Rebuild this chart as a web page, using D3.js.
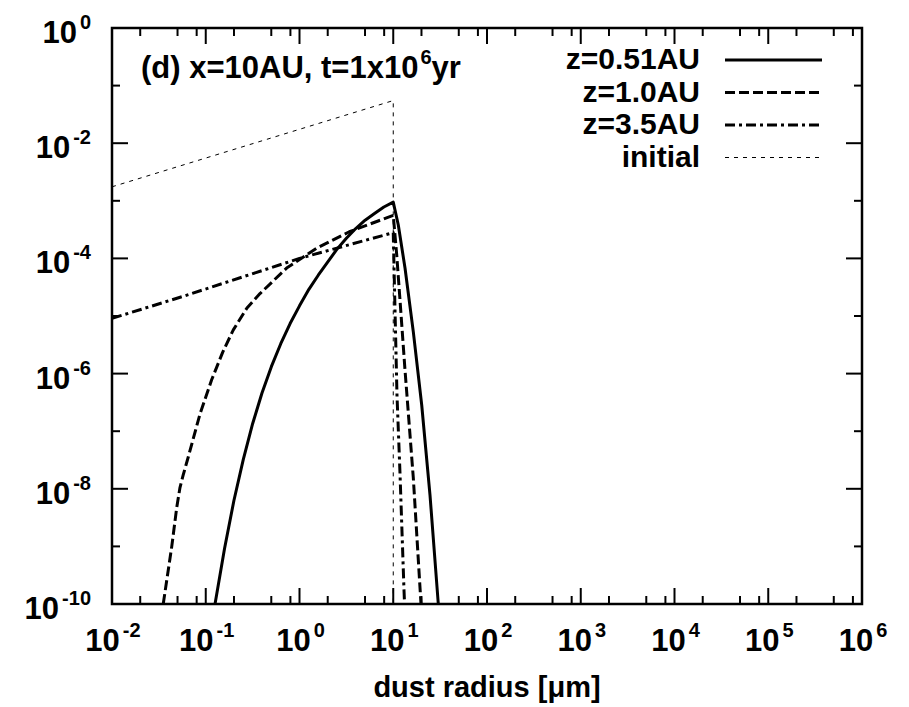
<!DOCTYPE html>
<html>
<head>
<meta charset="utf-8">
<script src="https://cdn.jsdelivr.net/npm/d3@7/dist/d3.min.js"></script>
<style>
    body { margin: 0; background: #fff; }
    svg text { font-family: "Liberation Sans", Arial, sans-serif; font-weight: bold; fill: #000; }
</style>
</head>
<body>
<div id="chart"></div>
<script>
// Axis ticks (exponents of 10)
const xMajorExps = [-2, -1, 0, 1, 2, 3, 4, 5, 6];
const xMinorMults = [2, 5, 8];
const yLabelExps = [-10, -8, -6, -4, -2, 0];
const yMinorExps = [-9, -7, -5, -3, -1];

// Curves: [dust radius (um), value]
const z051 = [[0.1256, 1e-10], [0.1585, 9.1e-10], [0.1995, 6.2e-9], [0.2512, 3.2e-8], [0.3162, 1.35e-7],
    [0.398, 4.6e-7], [0.501, 1.32e-6], [0.631, 3.3e-6], [0.794, 7.4e-6], [1.0, 1.5e-5],
    [1.259, 2.9e-5], [1.585, 5.1e-5], [1.995, 8.6e-5], [2.512, 1.45e-4], [3.162, 2.24e-4],
    [3.98, 3.3e-4], [5.01, 4.6e-4], [6.31, 6.0e-4], [7.94, 7.8e-4], [10.0, 9.5e-4],
    [11.32, 3.8e-4], [13.35, 6.8e-5], [16.37, 5.3e-6], [20.12, 2.85e-7], [24.66, 7.8e-9], [30.24, 1e-10]];
const z10 = [[0.0352, 1e-10], [0.0434, 1.0e-9], [0.0490, 4.7e-9], [0.0531, 1.05e-8], [0.0575, 1.74e-8],
    [0.0652, 3.6e-8], [0.0869, 2.0e-7], [0.1156, 7.8e-7], [0.1514, 2.34e-6], [0.1968, 5.75e-6],
    [0.2754, 1.38e-5], [0.379, 2.45e-5], [0.729, 6.8e-5], [1.524, 1.5e-4], [3.40, 2.9e-4],
    [10.0, 5.6e-4], [10.89, 1.15e-4], [11.8, 1.9e-5], [13.35, 1.15e-6], [16.37, 1.54e-8], [19.77, 1e-10]];
const z35 = [[0.01, 9.1e-6], [0.0577, 2.2e-5], [1.0, 1.0e-4], [10.0, 2.8e-4], [10.44, 1.27e-5],
    [10.96, 4.25e-7], [11.8, 1.88e-8], [13.02, 1.75e-10], [13.2, 1e-10]];
const initial = [[0.01, 1.75e-3], [10, 5.5e-2], [10, 1e-10]];

const seriesNames = ["z=0.51AU", "z=1.0AU", "z=3.5AU", "initial"];

const width = 909, height = 707;
const margin = { top: 28, right: 47, bottom: 103, left: 112 };

const svg = d3.select("#chart").append("svg")
    .attr("width", width)
    .attr("height", height);

const x = d3.scaleLog().domain([1e-2, 1e6]).range([margin.left, width - margin.right]);
const y = d3.scaleLog().domain([1e-10, 1]).range([height - margin.bottom, margin.top]);

const x0 = x.range()[0], x1 = x.range()[1];
const y0 = y.range()[1], y1 = y.range()[0];

svg.append("clipPath").attr("id", "clip")
    .append("rect")
    .attr("x", x0).attr("y", y0)
    .attr("width", x1 - x0).attr("height", y1 - y0);

// Ticks on all four sides, pointing inward
const ticks = svg.append("g").attr("stroke", "#000").attr("stroke-width", 2);
const xMajor = xMajorExps.map(e => Math.pow(10, e));
const xMinor = [];
xMajorExps.slice(0, -1).forEach(e => xMinorMults.forEach(m => xMinor.push(m * Math.pow(10, e))));

function xTick(v, len) {
    ticks.append("line").attr("x1", x(v)).attr("x2", x(v)).attr("y1", y1).attr("y2", y1 - len);
    ticks.append("line").attr("x1", x(v)).attr("x2", x(v)).attr("y1", y0).attr("y2", y0 + len);
}
function yTick(v, len) {
    ticks.append("line").attr("y1", y(v)).attr("y2", y(v)).attr("x1", x0).attr("x2", x0 + len);
    ticks.append("line").attr("y1", y(v)).attr("y2", y(v)).attr("x1", x1).attr("x2", x1 - len);
}
xMajor.forEach(v => xTick(v, 16));
xMinor.forEach(v => xTick(v, 8));
yLabelExps.forEach(e => yTick(Math.pow(10, e), 16));
yMinorExps.forEach(e => yTick(Math.pow(10, e), 8));

// Tick labels: 10 with superscript exponent
function powerLabel(sel, e) {
    sel.append("tspan").text("10");
    sel.append("tspan").attr("dy", -14).attr("dx", 3).style("font-size", "20px").text(String(e));
}

xMajorExps.forEach(e => {
    const t = svg.append("text")
        .attr("x", x(Math.pow(10, e)) + 1)
        .attr("y", 651)
        .attr("text-anchor", "middle")
        .style("font-size", "31px");
    powerLabel(t, e);
});

yLabelExps.forEach(e => {
    const t = svg.append("text")
        .attr("x", 91)
        .attr("y", y(Math.pow(10, e)) + 15)
        .attr("text-anchor", "end")
        .style("font-size", "31px");
    powerLabel(t, e);
});

// Axis title
svg.append("text")
    .attr("x", (x0 + x1) / 2)
    .attr("y", 697)
    .attr("text-anchor", "middle")
    .style("font-size", "29px")
    .text("dust radius [\u03bcm]");

// Curves
const line = d3.line().x(d => x(d[0])).y(d => y(d[1]));

const plot = svg.append("g").attr("clip-path", "url(#clip)").attr("fill", "none").attr("stroke", "#000")
    .attr("stroke-linejoin", "round");

const styles = [
    { data: z051, width: 3, dash: null },
    { data: z10, width: 3, dash: "10,4" },
    { data: z35, width: 3, dash: "10,4,3,4" },
    { data: initial, width: 1, dash: "4,5" }
];

styles.forEach(s => {
    plot.append("path")
        .attr("d", line(s.data))
        .attr("stroke-width", s.width)
        .attr("stroke-dasharray", s.dash);
});

// Frame
svg.append("rect")
    .attr("x", x0).attr("y", y0)
    .attr("width", x1 - x0).attr("height", y1 - y0)
    .attr("fill", "none").attr("stroke", "#000").attr("stroke-width", 2.5);

// Panel label
const title = svg.append("text")
    .attr("x", 141)
    .attr("y", 78)
    .style("font-size", "31px");
title.append("tspan").text("(d) x=10AU, t=1x10");
title.append("tspan").attr("dy", -14).attr("dx", 2).style("font-size", "20px").text("6");
title.append("tspan").attr("dy", 14).text("yr");

// Legend
const legend = svg.append("g");
seriesNames.forEach((name, i) => {
    const ly = 60 + i * 32.5;
    legend.append("text")
        .attr("x", 700)
        .attr("y", ly + 9)
        .attr("text-anchor", "end")
        .style("font-size", "30px")
        .text(name);
    legend.append("line")
        .attr("x1", 725).attr("x2", 822)
        .attr("y1", ly).attr("y2", ly)
        .attr("stroke", "#000")
        .attr("stroke-width", styles[i].width)
        .attr("stroke-dasharray", styles[i].dash);
});
</script>
</body>
</html>
